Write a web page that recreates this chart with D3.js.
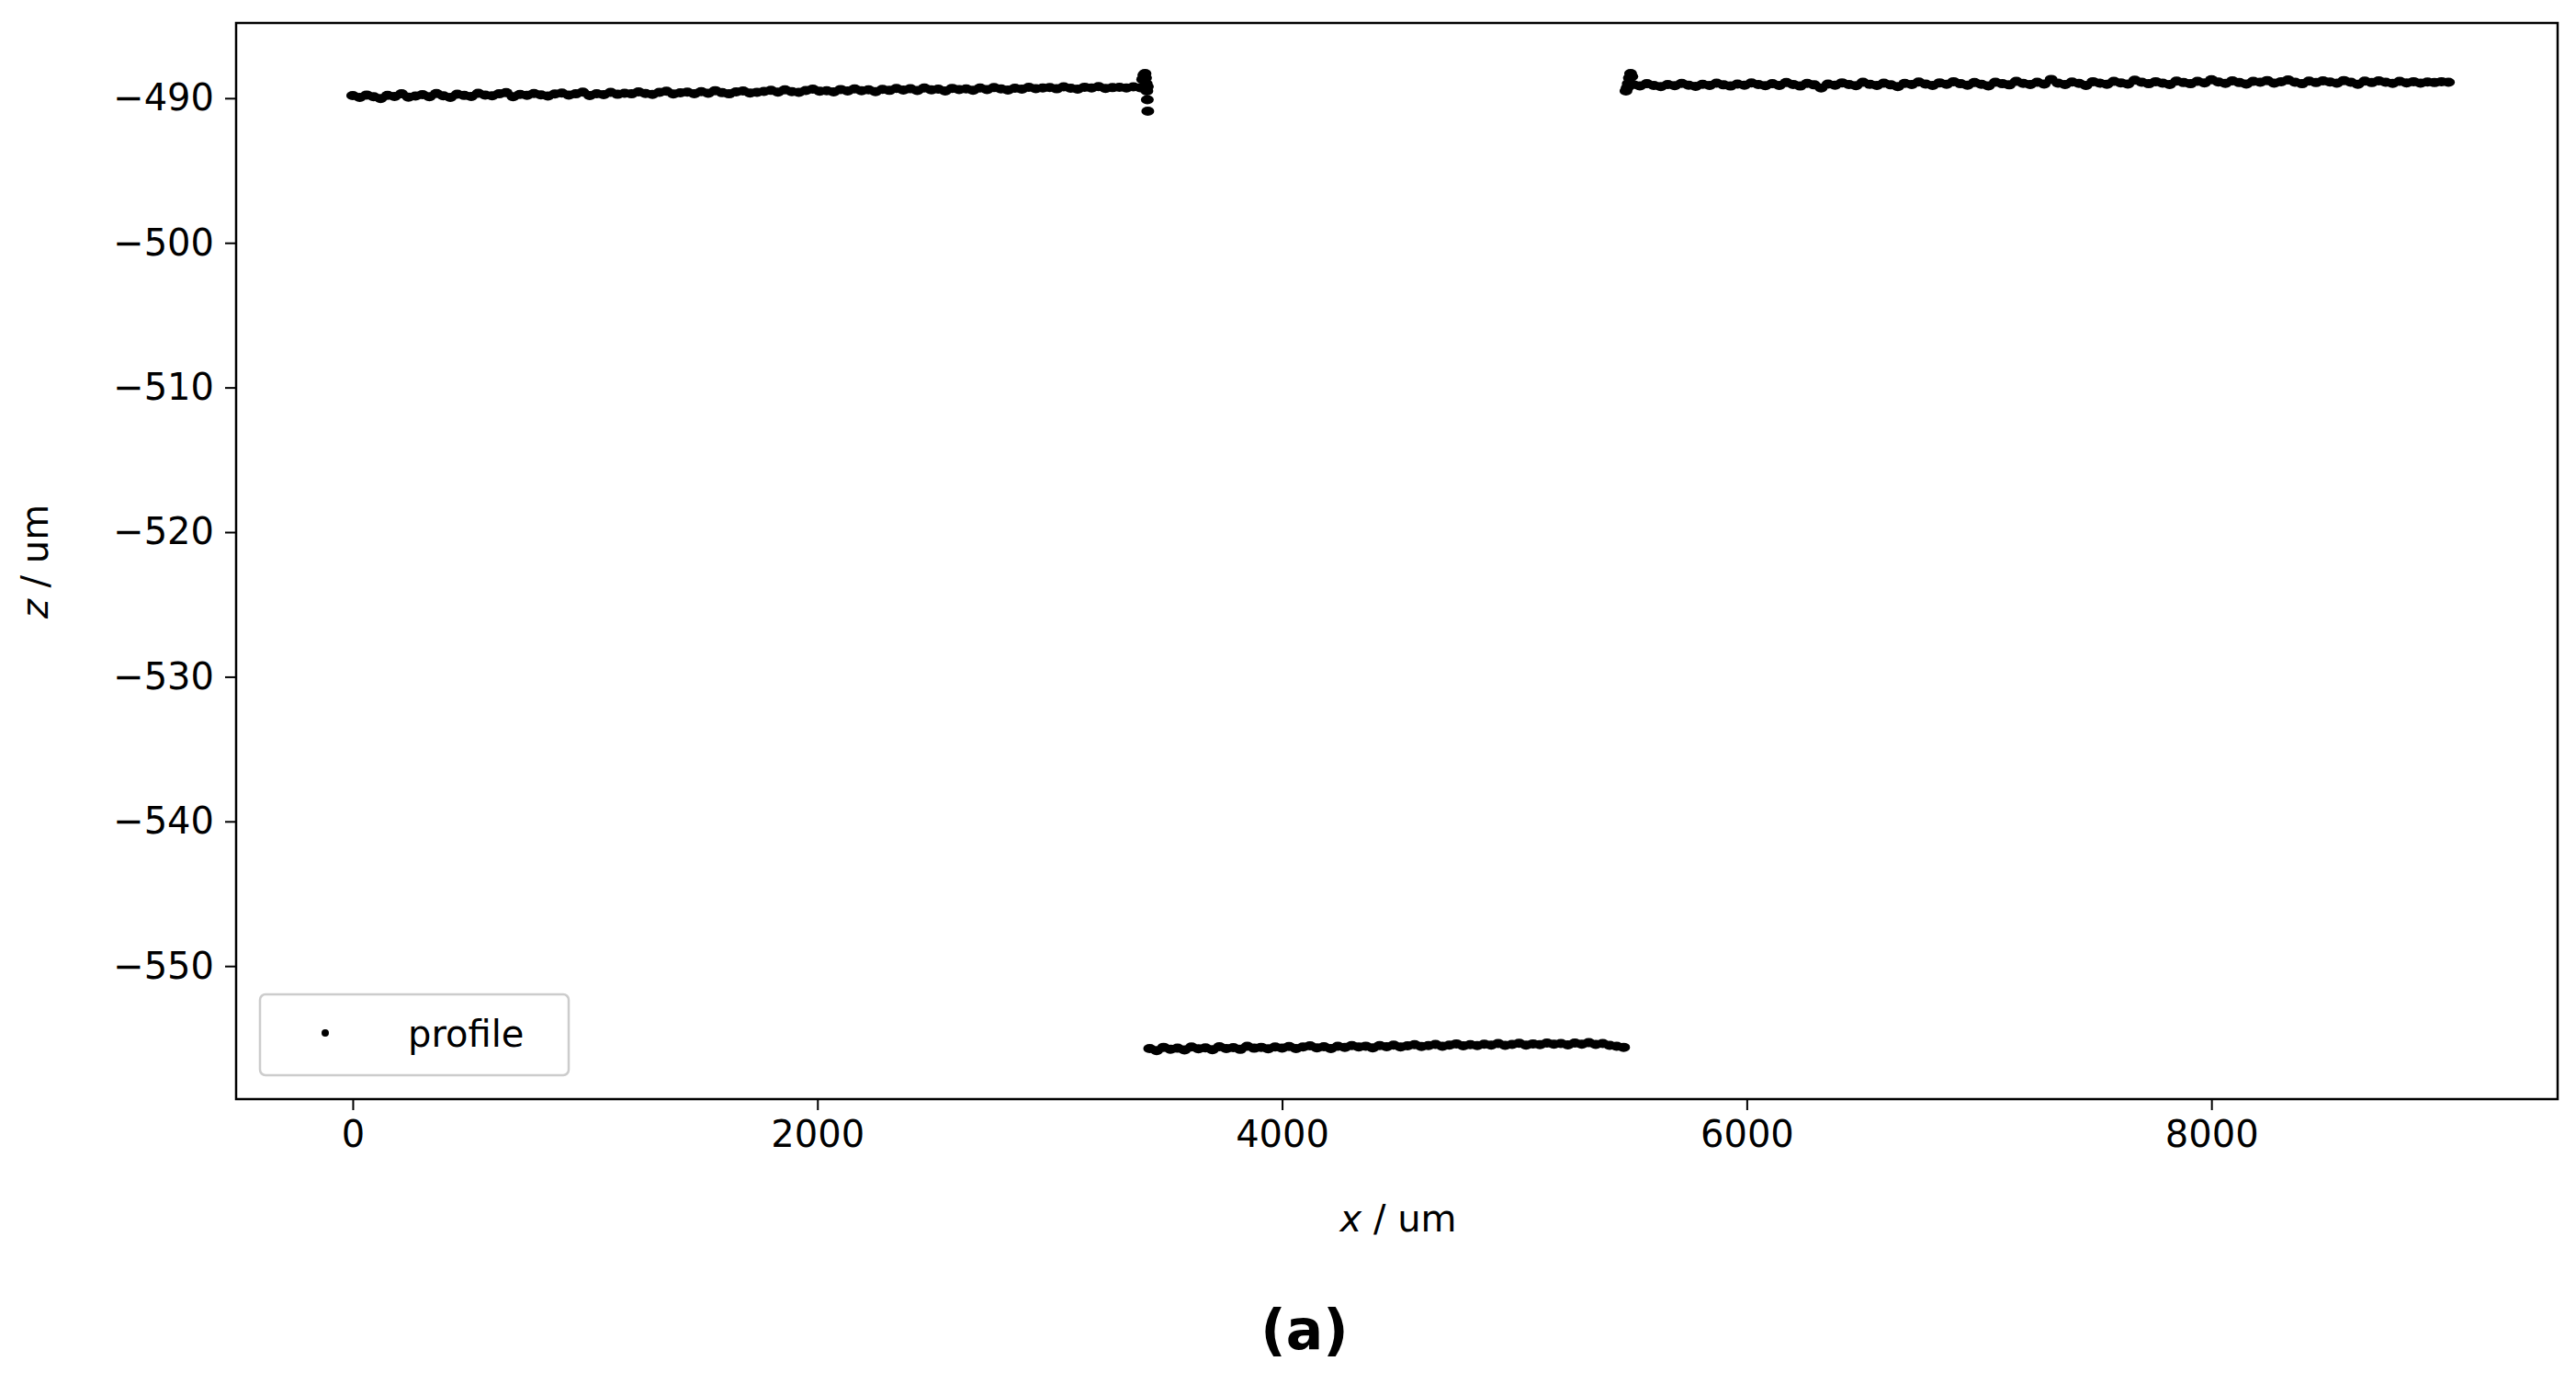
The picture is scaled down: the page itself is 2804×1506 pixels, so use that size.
<!DOCTYPE html>
<html><head><meta charset="utf-8">
<script src="https://cdn.jsdelivr.net/npm/d3@7"></script>
<style>body{margin:0;background:#fff}text{font-family:"DejaVu Sans",sans-serif}</style>
</head><body>
<svg id="c" width="2804" height="1506"></svg>
<script>
// sampled profile (x start, step in um) and z values (um)
const seg1Start = 0, seg1Step = 30;
const seg1Z = [-489.82,-489.95,-489.78,-489.9,-490.02,-489.8,-489.88,-489.7,-489.93,-489.85,
-489.76,-489.9,-489.68,-489.84,-489.95,-489.72,-489.81,-489.88,-489.66,-489.79,
-489.83,-489.7,-489.62,-489.9,-489.74,-489.8,-489.68,-489.77,-489.85,-489.71,
-489.64,-489.78,-489.7,-489.58,-489.82,-489.69,-489.75,-489.6,-489.73,-489.66,
-489.7,-489.56,-489.68,-489.74,-489.6,-489.52,-489.71,-489.63,-489.58,-489.69,
-489.55,-489.66,-489.48,-489.62,-489.7,-489.57,-489.5,-489.64,-489.59,-489.53,
-489.46,-489.58,-489.42,-489.55,-489.6,-489.47,-489.38,-489.52,-489.49,-489.57,
-489.4,-489.5,-489.36,-489.48,-489.42,-489.55,-489.39,-489.46,-489.33,-489.44,
-489.35,-489.47,-489.3,-489.42,-489.38,-489.5,-489.32,-489.41,-489.36,-489.45,
-489.3,-489.4,-489.27,-489.36,-489.44,-489.31,-489.38,-489.25,-489.34,-489.29,
-489.26,-489.35,-489.22,-489.31,-489.38,-489.24,-489.3,-489.2,-489.33,-489.27,
-489.25,-489.3,-489.22,-489.28,-489.2];
const seg2Start = 3430, seg2Step = 30;
const seg2Z = [-555.7,-555.85,-555.62,-555.75,-555.68,-555.8,-555.6,-555.72,-555.66,-555.78,
-555.58,-555.7,-555.64,-555.76,-555.55,-555.68,-555.62,-555.72,-555.6,-555.67,
-555.56,-555.7,-555.6,-555.52,-555.66,-555.58,-555.7,-555.55,-555.63,-555.5,
-555.6,-555.54,-555.66,-555.5,-555.58,-555.47,-555.6,-555.52,-555.44,-555.56,
-555.5,-555.42,-555.55,-555.47,-555.38,-555.52,-555.44,-555.5,-555.4,-555.46,
-555.36,-555.48,-555.42,-555.34,-555.46,-555.38,-555.44,-555.32,-555.4,-555.36,
-555.45,-555.33,-555.4,-555.3,-555.42,-555.36,-555.48,-555.55,-555.62];
const seg3Start = 5510, seg3Step = 30;
const seg3Z = [-489.05,-489.15,-489.0,-489.12,-489.2,-489.06,-489.14,-488.98,-489.1,-489.18,
-489.04,-489.12,-488.96,-489.08,-489.16,-489.02,-489.1,-488.95,-489.06,-489.14,
-489.0,-489.12,-488.92,-489.05,-489.16,-488.98,-489.08,-489.3,-489.02,-489.1,
-488.94,-489.06,-489.14,-488.9,-489.04,-489.12,-488.96,-489.08,-489.2,-488.98,
-489.06,-488.88,-489.02,-489.12,-488.94,-489.04,-488.86,-489.0,-489.1,-488.92,
-489.04,-489.15,-488.9,-489.0,-489.08,-488.84,-488.98,-489.06,-488.9,-489.02,
-488.7,-488.96,-489.06,-488.88,-488.98,-489.12,-488.86,-488.96,-489.04,-488.84,
-488.94,-489.02,-488.76,-488.9,-489.0,-488.86,-488.96,-489.06,-488.82,-488.92,
-489.0,-488.84,-488.94,-488.72,-488.88,-488.98,-488.8,-488.92,-489.02,-488.84,
-488.9,-488.78,-488.96,-488.86,-488.74,-488.9,-489.0,-488.82,-488.92,-488.8,
-488.88,-488.96,-488.78,-488.9,-489.04,-488.82,-488.92,-488.8,-488.9,-488.98,
-488.84,-488.94,-488.86,-488.96,-488.88,-488.92,-488.86,-488.9];
// edge artifacts
const edgeX = [3400,3405,3410,3412,3415,3418,3420,3422,5480,5485,5490,5495,5500,5505];
const edgeZ = [-488.7,-488.4,-488.3,-488.6,-489.0,-489.5,-490.1,-490.9,-489.5,-489.3,-489.0,-488.6,-488.3,-488.5];
const xTicks = [0,2000,4000,6000,8000];
const yTicks = [-490,-500,-510,-520,-530,-540,-550];

const pts = [];
seg1Z.forEach((z,i)=>pts.push([seg1Start+i*seg1Step,z]));
seg2Z.forEach((z,i)=>pts.push([seg2Start+i*seg2Step,z]));
seg3Z.forEach((z,i)=>pts.push([seg3Start+i*seg3Step,z]));
edgeX.forEach((x,i)=>pts.push([x,edgeZ[i]]));

const L=257,R=2784,T=25,B=1196;
const svg=d3.select("#c");
const x=d3.scaleLinear().domain([-502,9490]).range([L,R]);
const y=d3.scaleLinear().domain([-559.2,-484.8]).range([B,T]);
const fmt=d=>String(d).replace("-","\u2212");

svg.append("g").attr("transform",`translate(0,${B})`)
  .call(d3.axisBottom(x).tickValues(xTicks).tickFormat(fmt).tickSize(12).tickPadding(12))
  .call(g=>{g.select(".domain").remove();g.selectAll("line").attr("stroke-width",2);g.selectAll("text").attr("font-size",40).attr("fill","#000");});
svg.append("g").attr("transform",`translate(${L},0)`)
  .call(d3.axisLeft(y).tickValues(yTicks).tickFormat(fmt).tickSize(12).tickPadding(12))
  .call(g=>{g.select(".domain").remove();g.selectAll("line").attr("stroke-width",2);g.selectAll("text").attr("font-size",40).attr("fill","#000");});

svg.append("g").selectAll("ellipse").data(pts).join("ellipse")
  .attr("cx",d=>x(d[0])).attr("cy",d=>y(d[1])).attr("rx",7).attr("ry",5).attr("fill","#000");

svg.append("rect").attr("x",L).attr("y",T).attr("width",R-L).attr("height",B-T)
  .attr("fill","none").attr("stroke","#000").attr("stroke-width",2.5);

// legend
svg.append("rect").attr("x",283).attr("y",1082).attr("width",336).attr("height",88).attr("rx",6)
  .attr("fill","#fff").attr("stroke","#ccc").attr("stroke-width",2.5);
svg.append("circle").attr("cx",354).attr("cy",1124).attr("r",4).attr("fill","#000");
svg.append("text").attr("x",444).attr("y",1139).attr("font-size",40).text("profile");

svg.append("text").attr("x",1522).attr("y",1340).attr("font-size",40).attr("text-anchor","middle")
  .html('<tspan font-style="italic">x</tspan> / um');
svg.append("text").attr("transform","translate(52,611) rotate(-90)").attr("font-size",40).attr("text-anchor","middle")
  .html('<tspan font-style="italic">z</tspan> / um');
svg.append("text").attr("x",1420).attr("y",1468).attr("font-size",60).attr("font-weight","bold")
  .attr("text-anchor","middle").attr("font-family","'DejaVu Serif',serif").text("(a)");
</script></body></html>
